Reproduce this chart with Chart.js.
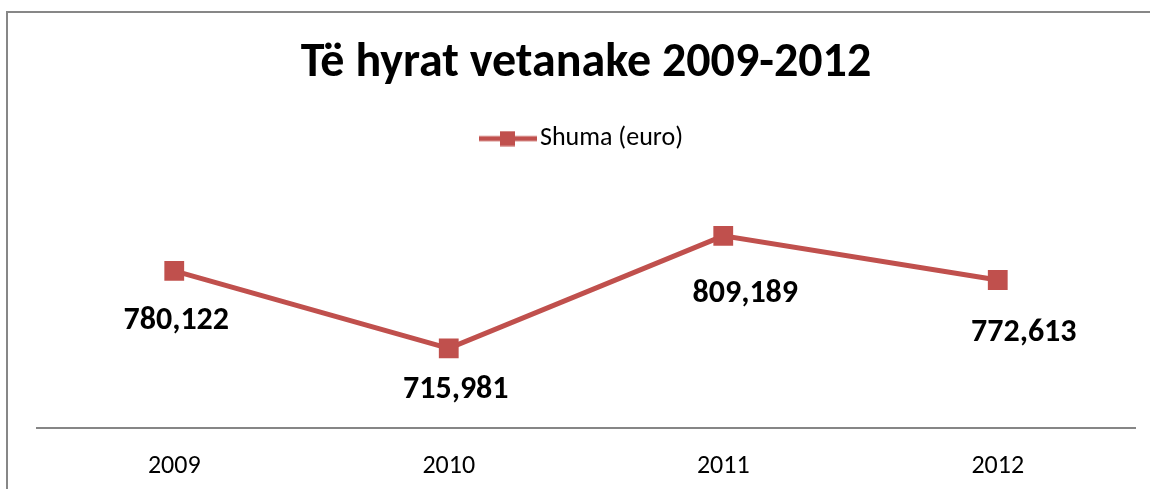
<!DOCTYPE html>
<html>
<head>
<meta charset="utf-8">
<script src="https://cdn.jsdelivr.net/npm/chart.js@4"></script>
<style>
  html, body { margin: 0; padding: 0; background: #fff; }
  #wrap { width: 1150px; height: 489px; position: relative; }
</style>
</head>
<body>
<div id="wrap"><canvas id="incomeChart"></canvas></div>
<script>
const years = ['2009', '2010', '2011', '2012'];
const amounts = [780122, 715981, 809189, 772613];
const seriesName = 'Shuma (euro)';
const chartTitle = 'Të hyrat vetanake 2009-2012';

const RED = '#C0504D';
const FONT = "Carlito, Lato, 'Open Sans', sans-serif";

Chart.defaults.font.family = FONT;
Chart.defaults.color = '#000';

// legend symbol: line with a square in the middle
function legendSymbol() {
    const c = document.createElement('canvas');
    c.width = 58;
    c.height = 16;
    const g = c.getContext('2d');
    g.fillStyle = RED;
    g.fillRect(0, 5.5, 58, 5);
    g.fillRect(21, 0.5, 15, 15);
    return c;
}

// frame around the chart (right and bottom edges fall outside the window)
const framePlugin = {
    id: 'frame',
    beforeDraw(chart) {
        const ctx = chart.ctx;
        ctx.save();
        ctx.strokeStyle = '#878787';
        ctx.lineWidth = 2;
        ctx.strokeRect(7, 12, 2000, 2000);
        ctx.restore();
    }
};

// value labels under the points
const valueLabels = {
    id: 'valueLabels',
    afterDatasetsDraw(chart, args, opts) {
        const ctx = chart.ctx;
        const meta = chart.getDatasetMeta(0);
        const values = chart.data.datasets[0].data;
        ctx.save();
        ctx.font = 'bold 32px ' + FONT;
        ctx.fillStyle = '#000';
        ctx.textAlign = 'center';
        ctx.textBaseline = 'middle';
        meta.data.forEach((pt, i) => {
            const txt = values[i].toLocaleString('en-US');
            ctx.fillText(txt, pt.x + opts.dx[i], pt.y + opts.dy[i]);
        });
        ctx.restore();
    }
};

const ctx = document.getElementById('incomeChart').getContext('2d');

new Chart(ctx, {
    type: 'line',
    data: {
        labels: years,
        datasets: [{
            label: seriesName,
            data: amounts,
            borderColor: RED,
            backgroundColor: RED,
            borderWidth: 5,
            pointStyle: 'rect',
            pointRadius: 14,
            pointHoverRadius: 14,
            pointBorderWidth: 0,
            pointBackgroundColor: RED,
            tension: 0
        }]
    },
    options: {
        responsive: true,
        maintainAspectRatio: false,
        animation: false,
        events: [],
        layout: { padding: { left: 37, right: 15, top: 0, bottom: 0 } },
        plugins: {
            title: {
                display: true,
                text: chartTitle,
                color: '#000',
                font: { size: 48, weight: 'bold' },
                padding: { top: 35, bottom: 0 }
            },
            legend: {
                display: true,
                position: 'top',
                labels: {
                    color: '#000',
                    font: { size: 26 },
                    usePointStyle: true,
                    pointStyleWidth: 38,
                    padding: 33,
                    generateLabels: (chart) => [{
                        text: seriesName,
                        pointStyle: legendSymbol(),
                        fillStyle: RED,
                        strokeStyle: RED,
                        lineWidth: 0,
                        datasetIndex: 0
                    }]
                }
            },
            // empty spacer between legend and plot
            subtitle: {
                display: true,
                text: '',
                weight: 500,
                font: { size: 10 },
                padding: { top: 0, bottom: 13 }
            },
            tooltip: { enabled: false },
            valueLabels: {
                dx: [2, 7, 22, 26],
                dy: [50, 42, 58, 53]
            }
        },
        scales: {
            x: {
                offset: true,
                grid: { display: false, drawTicks: false },
                border: { display: true, color: '#868686', width: 2 },
                ticks: { color: '#000', font: { size: 26 }, padding: 23 },
                afterFit: (scale) => { scale.height = 61; }
            },
            y: {
                display: false,
                min: 650000,
                max: 850000
            }
        }
    },
    plugins: [framePlugin, valueLabels]
});
</script>
</body>
</html>
